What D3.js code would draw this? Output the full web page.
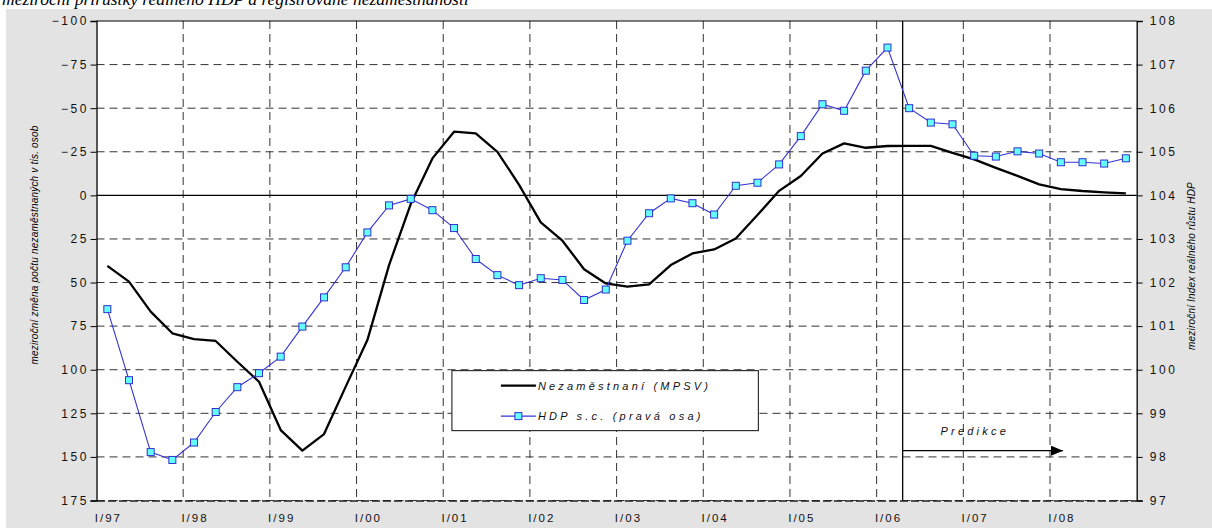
<!DOCTYPE html>
<html><head><meta charset="utf-8">
<script src="https://cdn.jsdelivr.net/npm/d3@7"></script>
<style>
html,body{margin:0;padding:0;background:#fff;}
svg{display:block;}
text{font-family:"Liberation Sans",Arial,sans-serif;}
</style></head>
<body>
<svg id="c" width="1212" height="528"></svg>
<script>
// ---- data ----
const years = ["97","98","99","00","01","02","03","04","05","06","07","08"];
const romans = ["I","II","III","IV"];
const quarters = years.flatMap(y => romans.map(r => r + "/" + y));
const tickLabels = years.map(y => "I/" + y);
const leftTicks = [-100,-75,-50,-25,0,25,50,75,100,125,150,175];
const rightTicks = [108,107,106,105,104,103,102,101,100,99,98,97];
const nezamestnani = [40.4,49.5,66.7,79.1,82.4,83.5,95.4,106.9,134.6,146.4,136.9,109.7,
  83,40,5,-21.2,-36.5,-35.5,-25,-6,15.5,26,42.4,50.5,
  52.4,51.0,40,33.3,31,24.7,11.3,-2.6,-11.1,-24,-29.8,-27.3,
  -28.3,-28.4,-28.4,-24.4,-20.6,-15.8,-11.2,-6.3,-3.6,-2.5,-1.7,-1.1];
const hdp = [101.39,99.76,98.11,97.93,98.33,99.03,99.60,99.92,100.30,100.99,101.66,102.35,
  103.15,103.77,103.92,103.66,103.25,102.54,102.17,101.94,102.10,102.06,101.60,101.84,
  102.96,103.59,103.93,103.82,103.56,104.22,104.29,104.71,105.36,106.09,105.94,106.86,
  107.39,106.00,105.67,105.63,104.91,104.89,105.01,104.96,104.76,104.76,104.73,104.85];
const seriesNames = ["Nezaměstnaní (MPSV)", "HDP s.c. (pravá osa)"];
const title = "meziroční přírůstky reálného HDP a registrované nezaměstnanosti";
const leftTitle = "meziroční změna počtu nezaměstnaných v tis. osob";
const rightTitle = "meziroční Index reálného růstu HDP";
const predikceLabel = "Predikce";
const predikceStart = 37.2;   // in quarter units
const predikceArrowEnd = 44.6;
const predikceArrowY = 146.4; // left-axis units
const predikceTextY = 137.5;
const predikceTextX = 38.95;

// ---- layout ----
const L = 96.5, R = 1136.7, T = 21, B = 500.5;
const svg = d3.select("#c");
svg.append("rect").attr("x",6).attr("y",9).attr("width",1206).attr("height",519).attr("fill","#e3e3e3");
svg.append("text").attr("x",2).attr("y",5).text(title)
  .style("font-family","'Liberation Serif',serif").style("font-style","italic").style("font-size","17.5px").attr("fill","#000");

const x = d3.scaleBand().domain(quarters).range([L,R]).padding(0);
const xc = q => x(q) + x.bandwidth()/2;
const xLin = d3.scaleLinear().domain([0,48]).range([L,R]);
const yL = d3.scaleLinear().domain([-100,175]).range([T,B]);
const yR = d3.scaleLinear().domain([108,97]).range([T,B]);

svg.append("rect").attr("x",L).attr("y",T).attr("width",R-L).attr("height",B-T).attr("fill","#fff");

// gridlines
const g = svg.append("g");
leftTicks.filter(v => v!==-100 && v!==0).forEach(v=>{
  g.append("line").attr("x1",L).attr("x2",R).attr("y1",yL(v)).attr("y2",yL(v))
   .attr("stroke","#333").attr("stroke-width",1).attr("stroke-dasharray","8,5");
});
tickLabels.slice(1).forEach(t=>{
  g.append("line").attr("x1",x(t)).attr("x2",x(t)).attr("y1",T).attr("y2",B)
   .attr("stroke","#333").attr("stroke-width",1).attr("stroke-dasharray","8,5");
});
// zero line & borders
g.append("line").attr("x1",L).attr("x2",R).attr("y1",yL(0)).attr("y2",yL(0)).attr("stroke","#000").attr("stroke-width",1.2);
g.append("line").attr("x1",L).attr("x2",R).attr("y1",T).attr("y2",T).attr("stroke","#000").attr("stroke-width",1.2);

// axes
const axL = svg.append("g").attr("transform",`translate(${L},0)`)
  .call(d3.axisLeft(yL).tickValues(leftTicks).tickSize(6).tickPadding(4).tickFormat(d3.format("d")));
const axR = svg.append("g").attr("transform",`translate(${R},0)`)
  .call(d3.axisRight(yR).tickValues(rightTicks).tickSize(6).tickPadding(7).tickFormat(d3.format("d")));
const axB = svg.append("g").attr("transform",`translate(0,${B})`)
  .call(d3.axisBottom(x).tickValues(tickLabels).tickSize(0).tickPadding(13));
[axL,axR,axB].forEach(a=>{
  a.selectAll("path.domain").attr("stroke","#000").attr("stroke-width",1.3);
  a.selectAll(".tick line").attr("stroke","#000");
  a.selectAll("text").style("font-size","11.5px").style("letter-spacing","2px").attr("fill","#111");
});
[axL,axR].forEach(a=>a.selectAll("text").style("font-size","12px").style("letter-spacing","2.6px"));
axL.selectAll("text").attr("dx","2.6");
axB.selectAll("text").attr("dx","1");
axB.select("path.domain").attr("stroke-dasharray","8,3").attr("stroke","#222");

// axis titles
svg.append("text").attr("transform",`translate(38,245) rotate(-90)`).attr("text-anchor","middle")
  .style("font-size","10px").style("font-style","italic").style("letter-spacing","0.2px").text(leftTitle);
svg.append("text").attr("transform",`translate(1195,266) rotate(-90)`).attr("text-anchor","middle")
  .style("font-size","10px").style("font-style","italic").style("letter-spacing","0.2px").text(rightTitle);

// prediction marker
svg.append("defs").append("marker").attr("id","arr").attr("viewBox","0 0 12 10").attr("refX",12).attr("refY",5)
  .attr("markerWidth",13).attr("markerHeight",10).attr("markerUnits","userSpaceOnUse").attr("orient","auto")
  .append("path").attr("d","M0,0L12,5L0,10Z").attr("fill","#000");
svg.append("line").attr("x1",xLin(predikceStart)).attr("x2",xLin(predikceStart)).attr("y1",T).attr("y2",B)
  .attr("stroke","#000").attr("stroke-width",1.3);
svg.append("line").attr("x1",xLin(predikceStart)).attr("x2",xLin(predikceArrowEnd))
  .attr("y1",yL(predikceArrowY)).attr("y2",yL(predikceArrowY)).attr("stroke","#000").attr("stroke-width",1.3)
  .attr("marker-end","url(#arr)");
svg.append("text").attr("x",xLin(predikceTextX)).attr("y",yL(predikceTextY)).text(predikceLabel)
  .style("font-size","11px").style("font-style","italic").style("letter-spacing","3.2px").attr("fill","#111");

// series
const lineL = d3.line().x((d,i)=>xc(quarters[i])).y(d=>yL(d));
const lineR = d3.line().x((d,i)=>xc(quarters[i])).y(d=>yR(d));
svg.append("path").datum(nezamestnani).attr("d",lineL).attr("fill","none").attr("stroke","#000")
  .attr("stroke-width",2.3).attr("stroke-linejoin","round");
svg.append("path").datum(hdp).attr("d",lineR).attr("fill","none").attr("stroke","#3434d4").attr("stroke-width",1.1);
svg.selectAll("rect.m").data(hdp).enter().append("rect").attr("class","m")
  .attr("x",(d,i)=>xc(quarters[i])-3.5).attr("y",d=>yR(d)-3.5).attr("width",7).attr("height",7)
  .attr("fill","#66ffff").attr("stroke","#3030cc").attr("stroke-width",1);

// legend
const lg = svg.append("g");
const lx = xLin(16.4), ly = yL(100.5), lw = 306.5, lh = 60;
lg.append("rect").attr("x",lx).attr("y",ly).attr("width",lw).attr("height",lh)
  .attr("fill","#fff").attr("stroke","#333").attr("stroke-width",1.2);
const items = [{name:seriesNames[0], color:"#000", w:2.3, marker:false},
               {name:seriesNames[1], color:"#3434d4", w:1.1, marker:true}];
items.forEach((it,k)=>{
  const yy = ly + 15 + k*30.5;
  lg.append("line").attr("x1",lx+49).attr("x2",lx+84).attr("y1",yy).attr("y2",yy).attr("stroke",it.color).attr("stroke-width",it.w);
  if(it.marker) lg.append("rect").attr("x",lx+66.5-3.5).attr("y",yy-3.5).attr("width",7).attr("height",7)
      .attr("fill","#66ffff").attr("stroke","#3030cc");
  lg.append("text").attr("x",lx+86).attr("y",yy+4).text(it.name)
    .style("font-size","11px").style("font-style","italic").style("letter-spacing","3.2px").attr("fill","#111");
});
</script>
</body></html>
